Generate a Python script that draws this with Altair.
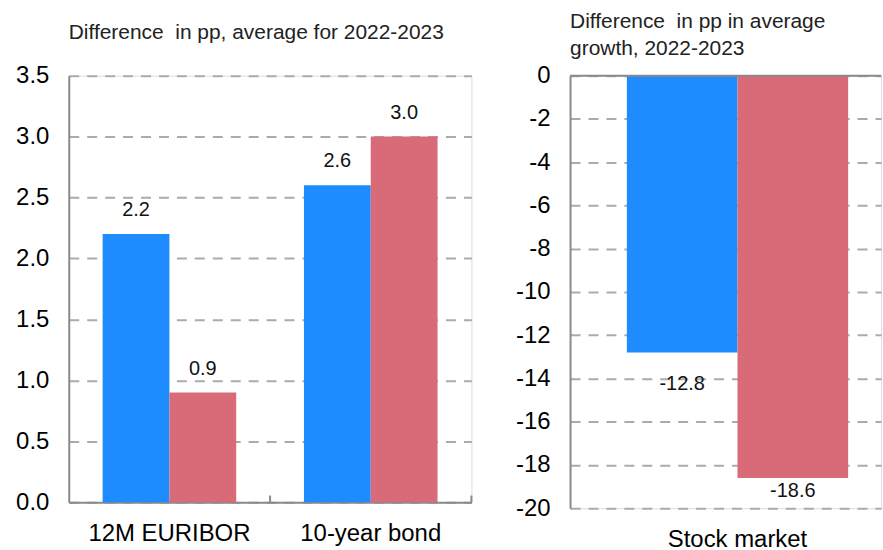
import altair as alt
import pandas as pd

# Values shown in the two panels
rate_categories = ["12M EURIBOR", "10-year bond"]
rate_series_a = [2.2, 2.6]
rate_series_b = [0.9, 3.0]

stock_categories = ["Stock market"]
stock_series_a = [-12.8]
stock_series_b = [-18.6]

series_names = ["Series A", "Series B"]
series_colors = ["#1E8CFF", "#D96B78"]

rate_ticks = [0.0, 0.5, 1.0, 1.5, 2.0, 2.5, 3.0, 3.5]
stock_ticks = [0, -2, -4, -6, -8, -10, -12, -14, -16, -18, -20]


def to_frame(categories, values_a, values_b):
    rows = []
    for cat, va, vb in zip(categories, values_a, values_b):
        rows.append({"category": cat, "series": series_names[0], "value": va})
        rows.append({"category": cat, "series": series_names[1], "value": vb})
    return pd.DataFrame(rows)


FONT = "Liberation Sans"
AXIS_GREY = "#8a8a8a"
GRID_GREY = "#ababab"
# d3-format writes a typographic minus; plain hyphens are used instead
HYPHEN_LABEL = "replace(format(datum.value, '{fmt}'), '\u2212', '-')"

color = alt.Color(
    "series:N",
    scale=alt.Scale(domain=series_names, range=series_colors),
    legend=None,
)


def y_axis(values, fmt):
    return alt.Axis(
        values=values,
        labelExpr=HYPHEN_LABEL.format(fmt=fmt),
        title=None,
        labelFont=FONT,
        labelFontSize=24,
        labelColor="black",
        labelPadding=20,
        ticks=False,
        domainColor=AXIS_GREY,
        domainWidth=2,
        grid=True,
        gridColor=GRID_GREY,
        gridWidth=2,
        gridDash=[10, 8],
    )


def x_axis(show_domain):
    return alt.Axis(
        title=None,
        labelAngle=0,
        labelFont=FONT,
        labelFontSize=24,
        labelColor="black",
        labelPadding=19,
        ticks=False,
        domain=show_domain,
        domainColor=AXIS_GREY,
        domainWidth=2,
        grid=False,
    )


def value_text(base):
    return base.transform_calculate(
        label=HYPHEN_LABEL.format(fmt=".1f")
    ).encode(text="label:N")


# Left panel: interest rates
rate_df = to_frame(rate_categories, rate_series_a, rate_series_b)
rate_x = alt.X(
    "category:N",
    sort=rate_categories,
    scale=alt.Scale(paddingInner=0, paddingOuter=0),
    axis=x_axis(True),
)
rate_y_scale = alt.Scale(domain=[0, 3.5], nice=False)
rate_base = alt.Chart(rate_df).encode(
    x=rate_x,
    xOffset=alt.XOffset(
        "series:N",
        sort=series_names,
        scale=alt.Scale(paddingInner=0, paddingOuter=0.507),
    ),
    y=alt.Y("value:Q", scale=rate_y_scale, axis=y_axis(rate_ticks, ".1f")),
)
rate_bars = rate_base.mark_bar().encode(color=color)
rate_labels = value_text(
    rate_base.mark_text(baseline="bottom", dy=-14, font=FONT, fontSize=20, color="#111")
)
# small upward tick marks at the right edge of each category band
band_ticks = (
    alt.Chart(pd.DataFrame({"category": rate_categories}))
    .mark_rule(color=AXIS_GREY, strokeWidth=2)
    .encode(
        x=alt.X("category:N", sort=rate_categories, bandPosition=1),
        y=alt.datum(0),
        y2=alt.datum(0.055),
    )
)

rate_panel = alt.layer(rate_bars, band_ticks, rate_labels).properties(
    width=404,
    height=428,
    title=alt.TitleParams(
        "Difference\u00a0 in pp, average for 2022-2023",
        anchor="start",
        frame="group",
        font=FONT,
        fontSize=21,
        fontWeight="normal",
        color="#222",
        offset=21,
    ),
)

# Right panel: stock market
stock_df = to_frame(stock_categories, stock_series_a, stock_series_b)
stock_base = alt.Chart(stock_df).encode(
    x=alt.X(
        "category:N",
        sort=stock_categories,
        scale=alt.Scale(paddingInner=0, paddingOuter=0.0417, align=1),
        axis=x_axis(False),
    ),
    xOffset=alt.XOffset(
        "series:N",
        sort=series_names,
        scale=alt.Scale(paddingInner=0, paddingOuter=0.297, align=0.5),
    ),
    y=alt.Y(
        "value:Q",
        scale=alt.Scale(domain=[-20, 0], nice=False),
        axis=y_axis(stock_ticks, "d"),
    ),
)
stock_bars = stock_base.mark_bar().encode(color=color)
stock_label_a = value_text(
    stock_base.transform_filter(alt.datum.series == series_names[0]).mark_text(
        baseline="top", dy=22, font=FONT, fontSize=20, color="#111"
    )
)
stock_label_b = value_text(
    stock_base.transform_filter(alt.datum.series == series_names[1]).mark_text(
        baseline="top", dy=3, font=FONT, fontSize=20, color="#111"
    )
)
zero_line = (
    alt.Chart(pd.DataFrame({"zero": [0]}))
    .mark_rule(color=AXIS_GREY, strokeWidth=2)
    .encode(y="zero:Q")
)

stock_panel = alt.layer(
    stock_bars, zero_line, stock_label_a, stock_label_b
).properties(
    width=312,
    height=434,
    title=alt.TitleParams(
        ["Difference\u00a0 in pp in average", "growth, 2022-2023"],
        anchor="start",
        frame="group",
        font=FONT,
        fontSize=21,
        fontWeight="normal",
        color="#222",
        lineHeight=27,
        offset=5,
    ),
)

chart = (
    alt.hconcat(rate_panel, stock_panel, spacing=99, bounds="flush")
    .resolve_scale(xOffset="independent")
    .properties(padding={"left": 15, "top": 9, "right": 0, "bottom": 0})
    .configure_view(stroke=None)
    .configure(background="white")
)

chart.save("out.html", embed_options={"renderer": "svg", "actions": False})
